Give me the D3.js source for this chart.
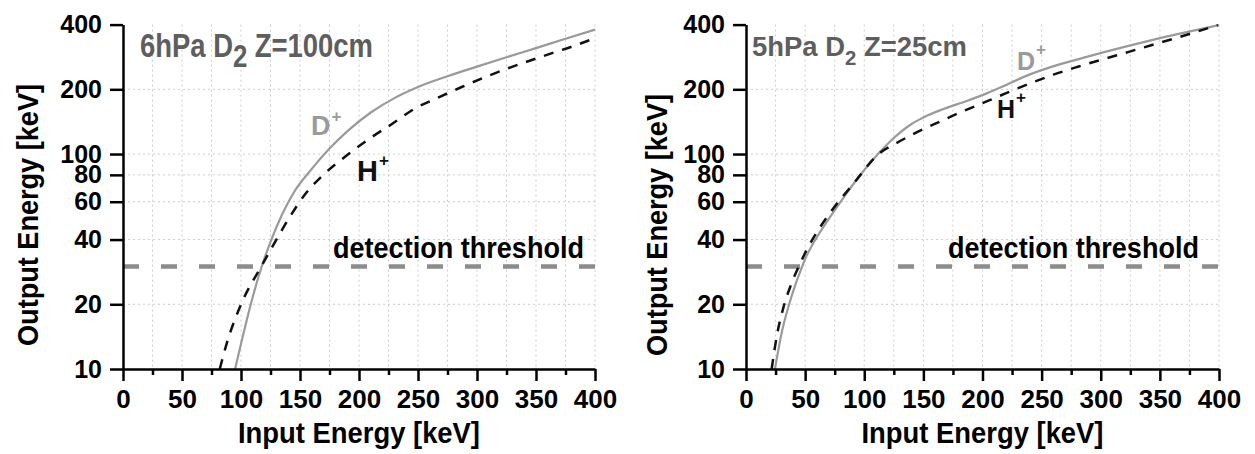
<!DOCTYPE html>
<html><head><meta charset="utf-8">
<script src="https://cdn.jsdelivr.net/npm/d3@7"></script>
<style>
body{margin:0;background:#fff}
svg{display:block}
text{font-family:"Liberation Sans",Arial,Helvetica,sans-serif;font-weight:bold}
</style>
</head><body>
<svg id="chart" width="1255" height="454"></svg>
<script>
// ---------- data ----------
const xTickValues = [0, 50, 100, 150, 200, 250, 300, 350, 400];
const xMinorTickValues = [25, 75, 125, 175, 225, 275, 325, 375];
const xGridValues = [25, 50, 75, 100, 125, 150, 175, 200, 225, 250, 275, 300, 325, 350, 375, 400];
const yTickValues = [10, 20, 40, 60, 80, 100, 200, 400];
const yGridValues = [20, 40, 60, 80, 100, 200];
const thresholdKeV = 30;

// left panel: 6hPa D2, Z=100cm
const leftDInput  = [95, 100, 105, 110, 117.5, 125, 135, 145, 160, 175, 190, 210, 230, 250, 275, 300, 325, 350, 375, 400];
const leftDOutput = [10, 13.1, 17.0, 21.7, 29.9, 39.0, 52.6, 66.6, 85.3, 106, 127.5, 156, 182, 205, 230, 255, 282, 311, 344, 379];
const leftHInput  = [82, 88, 100.6, 117.5, 130, 140, 155, 170, 190, 209, 228, 248, 268, 287, 307, 325, 344, 363, 382, 398];
const leftHOutput = [10, 13.2, 20.3, 30.2, 40.0, 49.6, 65.7, 80.2, 98.9, 118, 138, 163.5, 184, 205, 228, 249, 271, 294, 318, 343];

// right panel: 5hPa D2, Z=25cm
const rightDInput  = [24.5, 30, 36, 42, 47, 50, 58, 70, 81, 96, 112, 125, 140, 150, 167, 186, 203, 217, 237, 257, 285, 320, 350, 400];
const rightDOutput = [10, 14.6, 19.6, 24.9, 29.5, 32.5, 39.4, 49.9, 61.1, 79, 100.5, 118.7, 138, 148, 162, 176, 191, 206, 231, 253, 280, 315, 346, 398];
const rightHInput  = [21.7, 26, 31.5, 38, 45.6, 51.3, 58, 71, 92, 112, 125, 143, 164, 181, 205, 220, 243, 260, 280, 304, 323, 342, 361, 380, 399];
const rightHOutput = [10, 14.2, 19.2, 24.6, 30.8, 35.8, 41.6, 53.2, 74.1, 100, 110.7, 125, 141.6, 156, 177, 192, 216, 234, 254, 278, 298, 320, 343, 369, 398];

const xLabel = "Input Energy [keV]";
const yLabel = "Output Energy [keV]";
const thresholdLabel = "detection threshold";

// ---------- drawing ----------
const svg = d3.select("#chart");
const yTop = 24.6, yBottom = 369;

function pairs(xs, ys) { return xs.map((v, i) => [v, ys[i]]); }

function panel(cfg) {
  const x = d3.scaleLinear().domain([0, 400]).range([cfg.x0, cfg.x1]);
  const y = d3.scaleLog().domain([10, 400]).range([yBottom, yTop]);
  const g = svg.append("g");

  // grid
  g.append("g").selectAll("line").data(xGridValues).join("line")
    .attr("x1", d => x(d)).attr("x2", d => x(d))
    .attr("y1", yTop).attr("y2", yBottom)
    .attr("stroke", "#cdcdcd").attr("stroke-width", 1).attr("stroke-dasharray", "2,3");
  g.append("g").selectAll("line").data(yGridValues).join("line")
    .attr("x1", cfg.x0).attr("x2", cfg.x1)
    .attr("y1", d => y(d)).attr("y2", d => y(d))
    .attr("stroke", "#cdcdcd").attr("stroke-width", 1).attr("stroke-dasharray", "2,3");

  // threshold
  g.append("line")
    .attr("x1", cfg.x0).attr("x2", cfg.x1)
    .attr("y1", y(thresholdKeV)).attr("y2", y(thresholdKeV))
    .attr("stroke", "#8c8c8c").attr("stroke-width", 4.5).attr("stroke-dasharray", "16,22");

  // curves
  const line = d3.line().x(d => x(d[0])).y(d => y(d[1])).curve(d3.curveMonotoneX);
  g.append("path").datum(pairs(cfg.dIn, cfg.dOut)).attr("d", line)
    .attr("fill", "none").attr("stroke", "#9a9a9a").attr("stroke-width", 2.2);
  g.append("path").datum(pairs(cfg.hIn, cfg.hOut)).attr("d", line)
    .attr("fill", "none").attr("stroke", "#111").attr("stroke-width", 2.5).attr("stroke-dasharray", "10,9");

  // axes
  const xAxisG = g.append("g").attr("transform", `translate(0,${yBottom})`)
    .call(d3.axisBottom(x).tickValues(xTickValues).tickSize(12).tickSizeOuter(0).tickPadding(9).tickFormat(d3.format("d")));
  g.append("g").attr("transform", `translate(0,${yBottom})`)
    .call(d3.axisBottom(x).tickValues(xMinorTickValues).tickSize(6).tickFormat(""))
    .call(s => s.select(".domain").remove());
  const yAxisG = g.append("g").attr("transform", `translate(${cfg.x0},0)`)
    .call(d3.axisLeft(y).tickValues(yTickValues).tickSize(13).tickSizeOuter(0).tickPadding(8).tickFormat(d3.format("d")));
  xAxisG.selectAll("text").attr("font-size", 26);
  yAxisG.selectAll("text").attr("font-size", 25);
  [xAxisG, yAxisG].forEach(a => {
    a.selectAll("path,line").attr("stroke", "#000").attr("stroke-width", 2.5);
    a.selectAll("text").attr("fill", "#000")
      .attr("font-family", '"Liberation Sans",Arial,sans-serif').attr("font-weight", "bold");
  });
  g.selectAll(".tick line").attr("stroke", "#000").attr("stroke-width", 2.5);

  // axis titles
  g.append("text").attr("x", (cfg.x0 + cfg.x1) / 2).attr("y", 443)
    .attr("text-anchor", "middle").attr("font-size", 30)
    .attr("textLength", 242).attr("lengthAdjust", "spacingAndGlyphs").text(xLabel);
  g.append("text").attr("transform", `translate(${cfg.yTitleX},${cfg.yTitleY}) rotate(-90)`)
    .attr("text-anchor", "middle").attr("font-size", 30)
    .attr("textLength", 262).attr("lengthAdjust", "spacingAndGlyphs").text(yLabel);

  // panel title (one text element with subscript)
  const t = cfg.title;
  const tt = g.append("text").attr("x", t.x).attr("y", t.y).attr("font-size", t.size)
    .attr("fill", "#5e5e5e").attr("textLength", t.w).attr("lengthAdjust", "spacingAndGlyphs");
  tt.append("tspan").text(t.a);
  tt.append("tspan").attr("dy", t.subDy).attr("font-size", t.subSize).text(t.sub);
  tt.append("tspan").attr("dy", -t.subDy).text(t.b);

  // threshold label
  g.append("text").attr("x", cfg.thrX).attr("y", 258).attr("font-size", 29)
    .attr("textLength", 251).attr("lengthAdjust", "spacingAndGlyphs").text(thresholdLabel);

  // series labels with superscript
  const lab = (p, txt, col) => {
    const e = g.append("text").attr("x", p[0]).attr("y", p[1]).attr("font-size", p[2]).attr("fill", col);
    e.append("tspan").text(txt);
    e.append("tspan").attr("dx", 1).attr("dy", p[3]).attr("font-size", 17).text("+");
  };
  lab(cfg.dLab, "D", "#9a9a9a");
  lab(cfg.hLab, "H", "#111");
}

panel({
  x0: 123, x1: 595,
  dIn: leftDInput, dOut: leftDOutput, hIn: leftHInput, hOut: leftHOutput,
  yTitleX: 38, yTitleY: 215,
  title: {a: "6hPa D", sub: "2", b: " Z=100cm", x: 140, y: 57, size: 33, subSize: 31, subDy: 10, w: 233},
  thrX: 333,
  dLab: [311, 135, 27, -13],
  hLab: [357, 181, 29, -15]
});

panel({
  x0: 746, x1: 1219,
  dIn: rightDInput, dOut: rightDOutput, hIn: rightHInput, hOut: rightHOutput,
  yTitleX: 667, yTitleY: 225,
  title: {a: "5hPa D", sub: "2", b: " Z=25cm", x: 752, y: 56, size: 27, subSize: 20, subDy: 9, w: 215},
  thrX: 948,
  dLab: [1017, 70, 25, -15],
  hLab: [997, 118, 25, -15]
});
</script>
</body></html>
